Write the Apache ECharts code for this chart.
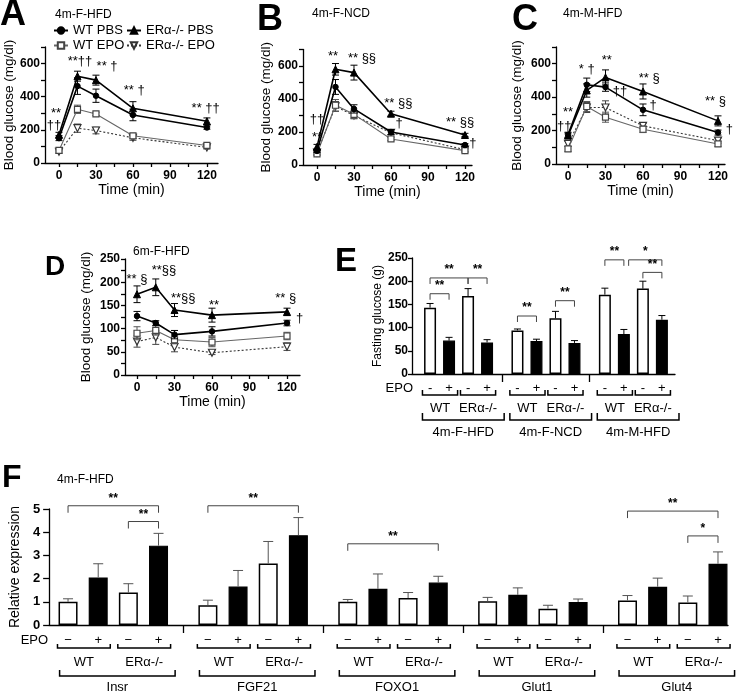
<!DOCTYPE html>
<html><head><meta charset="utf-8">
<script src="https://cdn.jsdelivr.net/npm/echarts@6/dist/echarts.min.js"></script>
<style>html,body{margin:0;padding:0;background:#fff}#c{width:740px;height:693px}</style>
</head><body><div id="c"></div>
<script>
// ---------------- data ----------------
const times = [0, 15, 30, 60, 120];
const seriesNames = ['WT PBS', 'ERα-/- PBS', 'WT EPO', 'ERα-/- EPO'];

// Panel A 4m-F-HFD (rows follow seriesNames)
const A_mean = [[150,464,406,290,214],[170,524,500,330,252],[76,324,296,164,106],[68,210,196,152,94]];
const A_err  = [[15,50,40,35,10],[15,30,30,40,20],[10,25,10,15,10],[10,25,20,15,10]];
const A_ann  = [[-2.4,300,'**'],[-4,228,'††'],[17,612,'**††'],[39,582,'** †'],[61,438,'** †'],[119,330,'** ††']];
// Panel B 4m-F-NCD
const B_mean = [[85,473,340,200,121],[110,580,560,311,182],[68,362,307,158,87],[75,355,300,195,93]];
const B_err  = [[10,45,25,15,8],[15,35,45,15,10],[10,35,25,10,10],[10,30,20,10,10]];
const B_ann  = [[0,279,'††'],[0,170,'**'],[13,660,'**'],[36.5,648,'** §§'],[66,376,'** §§'],[66.5,254,'†'],[116,260,'** §§'],[126.5,133,'†']];
// Panel C 4m-M-HFD
const C_mean = [[175,474,460,324,188],[170,440,518,434,258],[90,344,280,208,120],[120,338,338,228,140]];
const C_err  = [[15,40,25,35,15],[15,40,45,45,30],[15,30,30,20,15],[15,30,40,15,15]];
const C_ann  = [[0,306,'**'],[-3,222,'††'],[15,564,'* †'],[31,618,'**'],[41.6,432,'††'],[65,510,'** §'],[68,348,'†'],[118,372,'** §'],[129,204,'†']];
// Panel D 6m-F-HFD
const D_mean = [[127,112,87,94,112],[174,189,140,129,136],[90,96,76,71,84],[72,81,60,48,61]];
const D_err  = [[10,5,9,10,6],[18,18,14,15,8],[14,10,8,10,8],[12,15,10,4,8]];
const D_ann  = [[0,207,'** §'],[21.6,225,'**§§'],[37,164,'**§§'],[61.6,149,'**'],[119,164,'** §'],[130,123,'†']];

// Panel E fasting glucose
const E_groups = ['4m-F-HFD','4m-F-NCD','4m-M-HFD'];
const genotypes = ['WT','ERα-/-'];
const E_epo = ['-','+'];
const E_mean = [143,72,168,68, 94,71,120,67, 171,86,184,117];
const E_err  = [9,7,16,6, 3,4,15,5, 14,10,16,9];
const E_sig  = [[0,2,207,'**'],[0,1,173,'**'],[2,3,207,'**'],[4,5,125,'**'],[6,7,158,'**'],[8,9,246,'**'],[9,11,246,'*',0.25],[10,11,219,'**']];

// Panel F relative expression
const F_genes = ['Insr','FGF21','FOXO1','Glut1','Glut4'];
const F_epo = ['−','+'];
const F_mean = [1.00,2.05,1.40,3.42, 0.85,1.66,2.65,3.87, 1.00,1.56,1.16,1.83, 1.02,1.30,0.70,0.99, 1.06,1.65,0.97,2.64];
const F_err  = [0.13,0.59,0.38,0.53, 0.22,0.69,0.95,0.76, 0.10,0.64,0.24,0.27, 0.17,0.30,0.15,0.13, 0.21,0.37,0.28,0.51];
const F_sig  = [[0,3,5.14,'**'],[2,3,4.46,'**'],[4,7,5.14,'**'],[8,11,3.5,'**'],[16,19,4.91,'**'],[18,19,3.84,'*']];

// ---------------- layout / style ----------------
const FF = '"Liberation Sans", Arial, Helvetica, sans-serif';
function tickVals(a, b, s) { const r = []; for (let v = a; v <= b + 1e-9; v += s) r.push(+v.toFixed(6)); return r; }

const linePanels = [
  {mean:A_mean, err:A_err, ann:A_ann, grid:{left:45, top:47, width:173, height:116}, xmin:-11.35, xmax:129, ymax:700, yTick:100, yLabMax:600, yLab:200, yGap:27},
  {mean:B_mean, err:B_err, ann:B_ann, grid:{left:303, top:49.5, width:169, height:115.5}, xmin:-11.35, xmax:125.7, ymax:700, yTick:100, yLabMax:600, yLab:200, yGap:30},
  {mean:C_mean, err:C_err, ann:C_ann, grid:{left:556, top:47, width:169, height:117}, xmin:-9.6, xmax:125.6, ymax:700, yTick:100, yLabMax:600, yLab:200, yGap:32},
  {mean:D_mean, err:D_err, ann:D_ann, grid:{left:125, top:259, width:175, height:116}, xmin:-9.6, xmax:130.4, ymax:250, yTick:25, yLabMax:250, yLab:50, yGap:32},
];

const lineStyles = [
  {symbol:'circle', size:5.5, rotate:0, item:{color:'#000', borderColor:'#000', borderWidth:1}, line:{color:'#000', width:1.6, type:'solid'}, err:'#000', z:6},
  {symbol:'triangle', size:7, rotate:0, item:{color:'#000', borderColor:'#000', borderWidth:1}, line:{color:'#000', width:1.6, type:'solid'}, err:'#000', z:7},
  {symbol:'rect', size:6, rotate:0, item:{color:'#fff', borderColor:'#444', borderWidth:1.2}, line:{color:'#666', width:1.1, type:'solid'}, err:'#555', z:5},
  {symbol:'triangle', size:7, rotate:180, item:{color:'#fff', borderColor:'#333', borderWidth:1.2}, line:{color:'#333', width:1.1, type:[2,2]}, err:'#444', z:4},
];

const axisLineStyle = {color:'#000', width:1.3};

function errRender(capW, color, both, lw) {
  return function (params, api) {
    const x = api.value(0), m = api.value(1), e = api.value(2);
    const top = api.coord([x, m + e]);
    const bot = api.coord([x, both ? m - e : m]);
    const hw = capW / 2;
    const st = {stroke: color, lineWidth: lw || 1};
    const ch = [
      {type:'line', shape:{x1:top[0], y1:top[1], x2:bot[0], y2:bot[1]}, style:st},
      {type:'line', shape:{x1:top[0]-hw, y1:top[1], x2:top[0]+hw, y2:top[1]}, style:st}
    ];
    if (both) ch.push({type:'line', shape:{x1:bot[0]-hw, y1:bot[1], x2:bot[0]+hw, y2:bot[1]}, style:st});
    return {type:'group', children:ch};
  };
}

const option = {
  animation:false, backgroundColor:'#fff',
  grid:[], xAxis:[], yAxis:[], series:[],
  legend:[
    {data:['WT PBS','WT EPO'], orient:'vertical', left:53, top:24, itemWidth:14, itemHeight:8, itemGap:2, padding:0,
     textStyle:{fontSize:13, fontFamily:FF, color:'#000', lineHeight:13}},
    {data:['ERα-/- PBS','ERα-/- EPO'], orient:'vertical', left:126, top:24, itemWidth:14, itemHeight:8, itemGap:2, padding:0,
     textStyle:{fontSize:13, fontFamily:FF, color:'#000', lineHeight:13}}
  ],
  graphic:{elements:[]}
};

// ---------- line panels ----------
linePanels.forEach((P, p) => {
  option.grid.push(P.grid);
  option.xAxis.push({
    type:'value', gridIndex:p, min:P.xmin, max:P.xmax,
    name:'Time (min)', nameLocation:'middle', nameGap:20,
    nameTextStyle:{fontSize:14, fontFamily:FF, color:'#000'},
    axisLine:{show:true, onZero:false, lineStyle:axisLineStyle},
    axisTick:{show:true, customValues:tickVals(0,120,15), length:4, lineStyle:axisLineStyle},
    axisLabel:{customValues:tickVals(0,120,30), fontFamily:FF, fontWeight:'bold', fontSize:12, color:'#000', margin:7},
    splitLine:{show:false}
  });
  option.yAxis.push({
    type:'value', gridIndex:p, min:0, max:P.ymax,
    name:'Blood glucose (mg/dl)', nameLocation:'middle', nameGap:P.yGap,
    nameTextStyle:{fontSize:13.5, fontFamily:FF, color:'#000'},
    axisLine:{show:true, onZero:false, lineStyle:axisLineStyle},
    axisTick:{show:true, customValues:tickVals(0,P.ymax,P.yTick), length:4, lineStyle:axisLineStyle},
    axisLabel:{customValues:tickVals(0,P.yLabMax,P.yLab), fontFamily:FF, fontWeight:'bold', fontSize:12, color:'#000', margin:5},
    splitLine:{show:false}
  });
  seriesNames.forEach((nm, s) => {
    const S = lineStyles[s];
    option.series.push({
      type:'custom', name:nm + ' err', xAxisIndex:p, yAxisIndex:p, silent:true, clip:false, z:S.z,
      data: times.map((t, i) => [t, P.mean[s][i], P.err[s][i]]),
      encode:{x:0, y:1}, renderItem: errRender(7, S.err, true, 1)
    });
    option.series.push({
      type:'line', name:nm, xAxisIndex:p, yAxisIndex:p, silent:true, z:S.z,
      data: times.map((t, i) => [t, P.mean[s][i]]),
      symbol:S.symbol, symbolSize:S.size, symbolRotate:S.rotate, showSymbol:true,
      itemStyle:S.item, lineStyle:S.line
    });
  });
  const ann = P.ann;
  option.series.push({
    type:'custom', xAxisIndex:p, yAxisIndex:p, silent:true, clip:false, z:10,
    data: ann.map(a => [a[0], a[1]]), encode:{x:0, y:1},
    renderItem(params, api) {
      const a = ann[params.dataIndex];
      const c = api.coord([a[0], a[1]]);
      return {type:'text', style:{x:c[0], y:c[1], text:a[2], align:'center', verticalAlign:'middle', font:'13px ' + FF, fill:'#000'}};
    }
  });
});

// ---------- bar panels ----------
function barPanel(cfg) {
  const gi = option.grid.length;
  option.grid.push(cfg.grid);
  const n = cfg.mean.length;
  const pos = i => Math.floor(i / 4) * cfg.G + (i % 4);
  const seps = [];
  for (let g = 0; g < n / 4 - 1; g++) seps.push(+((g * cfg.G + 3 + (g + 1) * cfg.G) / 2).toFixed(4));
  option.xAxis.push({
    type:'value', gridIndex:gi, min:cfg.xmin, max:cfg.xmax,
    axisLine:{show:true, onZero:false, lineStyle:axisLineStyle},
    axisTick:{show:true, customValues:seps, length:8, lineStyle:axisLineStyle},
    axisLabel:{show:false}, splitLine:{show:false}
  });
  option.yAxis.push({
    type:'value', gridIndex:gi, min:0, max:cfg.ymax, interval:cfg.yInt,
    name:cfg.yName, nameLocation:'middle', nameGap:cfg.yGap,
    nameTextStyle:{fontSize:cfg.yNameSize, fontFamily:FF, color:'#000'},
    axisLine:{show:true, onZero:false, lineStyle:axisLineStyle},
    axisTick:{show:true, length:cfg.tickLen, lineStyle:axisLineStyle},
    axisLabel:{fontFamily:FF, fontWeight:'bold', fontSize:cfg.labSize, color:'#000', margin:cfg.labMargin},
    splitLine:{show:false}
  });
  option.series.push({
    type:'bar', xAxisIndex:gi, yAxisIndex:gi, barWidth:cfg.barW, silent:true, z:2,
    data: cfg.mean.map((m, i) => ({value:[pos(i), m],
      itemStyle: (i % 2) ? {color:'#000', borderColor:'#000', borderWidth:1.2} : {color:'#fff', borderColor:'#000', borderWidth:1.5}}))
  });
  option.series.push({
    type:'custom', xAxisIndex:gi, yAxisIndex:gi, silent:true, clip:false, z:3,
    data: cfg.mean.map((m, i) => [pos(i), m, cfg.err[i]]), encode:{x:0, y:1},
    renderItem: errRender(cfg.capW, cfg.errColor, false, 1)
  });
  const sig = cfg.sig;
  option.series.push({
    type:'custom', xAxisIndex:gi, yAxisIndex:gi, silent:true, clip:false, z:4,
    data: sig.map(s => [pos(s[0]), s[2]]), encode:{x:0, y:1},
    renderItem(params, api) {
      const s = sig[params.dataIndex];
      const u = api.size([1, 0])[0];
      const off1 = (s[4] || 0) * u;
      const p1 = api.coord([pos(s[0]), s[2]]), p2 = api.coord([pos(s[1]), s[2]]);
      const x1 = p1[0] + off1, x2 = p2[0], y = p1[1], L = cfg.sigLeg;
      return {type:'group', children:[
        {type:'polyline', shape:{points:[[x1, y + L], [x1, y], [x2, y], [x2, y + L]]}, style:{stroke:'#444', lineWidth:1, fill:null}},
        {type:'text', style:{x:(x1 + x2) / 2, y:y - cfg.sigTxt, text:s[3], align:'center', verticalAlign:'middle', font:'bold 12px ' + FF, fill:'#000'}}
      ]};
    }
  });
  // labels under axis
  const L = cfg.lab;
  option.series.push({
    type:'custom', xAxisIndex:gi, yAxisIndex:gi, silent:true, clip:false, z:4,
    data: cfg.mean.map((m, i) => [pos(i), 0]), encode:{x:0, y:1},
    renderItem(params, api) {
      const i = params.dataIndex;
      const p = api.coord([pos(i), 0]);
      const u = api.size([1, 0])[0];
      const font = cfg.labFont + 'px ' + FF;
      const ln = {stroke:'#000', lineWidth:1.5, fill:null};
      const ch = [{type:'text', style:{x:p[0], y:p[1] + L.sign, text:cfg.epo[i % 2], align:'center', verticalAlign:'middle', font, fill:'#000'}}];
      if (i % 2 === 0) {
        const x1 = p[0] - L.pl * u, x2 = p[0] + (1 + L.pr) * u, y = p[1] + L.pairY;
        ch.push({type:'polyline', shape:{points:[[x1, y - L.pairLeg], [x1, y], [x2, y], [x2, y - L.pairLeg]]}, style:ln});
        ch.push({type:'text', style:{x:(x1 + x2) / 2, y:p[1] + L.pairLab, text:genotypes[(i % 4) / 2 | 0], align:'center', verticalAlign:'middle', font, fill:'#000'}});
      }
      if (i % 4 === 0) {
        const x1 = p[0] - L.gl * u, x2 = p[0] + (3 + L.gr) * u, y = p[1] + L.grpY;
        ch.push({type:'polyline', shape:{points:[[x1, y - L.grpLeg], [x1, y], [x2, y], [x2, y - L.grpLeg]]}, style:ln});
        ch.push({type:'text', style:{x:(x1 + x2) / 2, y:p[1] + L.grpLab, text:cfg.groups[i / 4], align:'center', verticalAlign:'middle', font, fill:'#000'}});
      }
      if (i === 0) {
        const x0 = api.coord([cfg.xmin, 0])[0];
        ch.push({type:'text', style:{x:x0 + L.epoDx, y:p[1] + L.sign, text:'EPO', align:'right', verticalAlign:'middle', font, fill:'#000'}});
      }
      return {type:'group', children:ch};
    }
  });
}

barPanel({
  grid:{left:412, top:258, width:263, height:116}, mean:E_mean, err:E_err, sig:E_sig,
  G:4.6, xmin:-0.95, xmax:12.89, ymax:250, yInt:50, yName:'Fasting glucose (g)', yGap:25, yNameSize:12,
  tickLen:4, labSize:12, labMargin:4, barW:12, capW:7, errColor:'#000', sigLeg:6, sigTxt:8,
  epo:E_epo, groups:E_groups, labFont:13,
  lab:{sign:14, pl:0.4, pr:0.45, pairY:21, pairLeg:5, pairLab:34, gl:0.4, gr:0.9, grpY:46, grpLeg:7, grpLab:58, epoDx:1}
});

barPanel({
  grid:{left:46, top:509, width:682, height:116}, mean:F_mean, err:F_err, sig:F_sig,
  G:4.637, xmin:-0.627, xmax:21.88, ymax:5, yInt:1, yName:'Relative expression', yGap:27, yNameSize:14,
  tickLen:6, labSize:13, labMargin:9, barW:19, capW:10, errColor:'#555', sigLeg:7, sigTxt:7,
  epo:F_epo, groups:F_genes, labFont:13,
  lab:{sign:15, pl:0.35, pr:0.4, pairY:23, pairLeg:4, pairLab:37, gl:0.28, gr:0.55, grpY:51, grpLeg:6, grpLab:62, epoDx:-1}
});

// ---------- letters & titles ----------
const letters = [['A',0,15,36],['B',257,20,36],['C',512,20,36],['D',45,267,28],['E',335,262,33],['F',2,478,32]];
const titles = [['4m-F-HFD',55,15],['4m-F-NCD',312,14],['4m-M-HFD',563,14],['6m-F-HFD',133,252],['4m-F-HFD',57,480]];
letters.forEach(l => option.graphic.elements.push({type:'text', x:l[1], y:l[2], silent:true,
  style:{text:l[0], font:'bold ' + l[3] + 'px ' + FF, fill:'#000', align:'left', verticalAlign:'middle'}}));
titles.forEach(t => option.graphic.elements.push({type:'text', x:t[1], y:t[2], silent:true,
  style:{text:t[0], font:'12px ' + FF, fill:'#000', align:'left', verticalAlign:'middle'}}));

const chart = echarts.init(document.getElementById('c'), null, {renderer:'canvas'});
chart.setOption(option);
</script>
</body></html>
